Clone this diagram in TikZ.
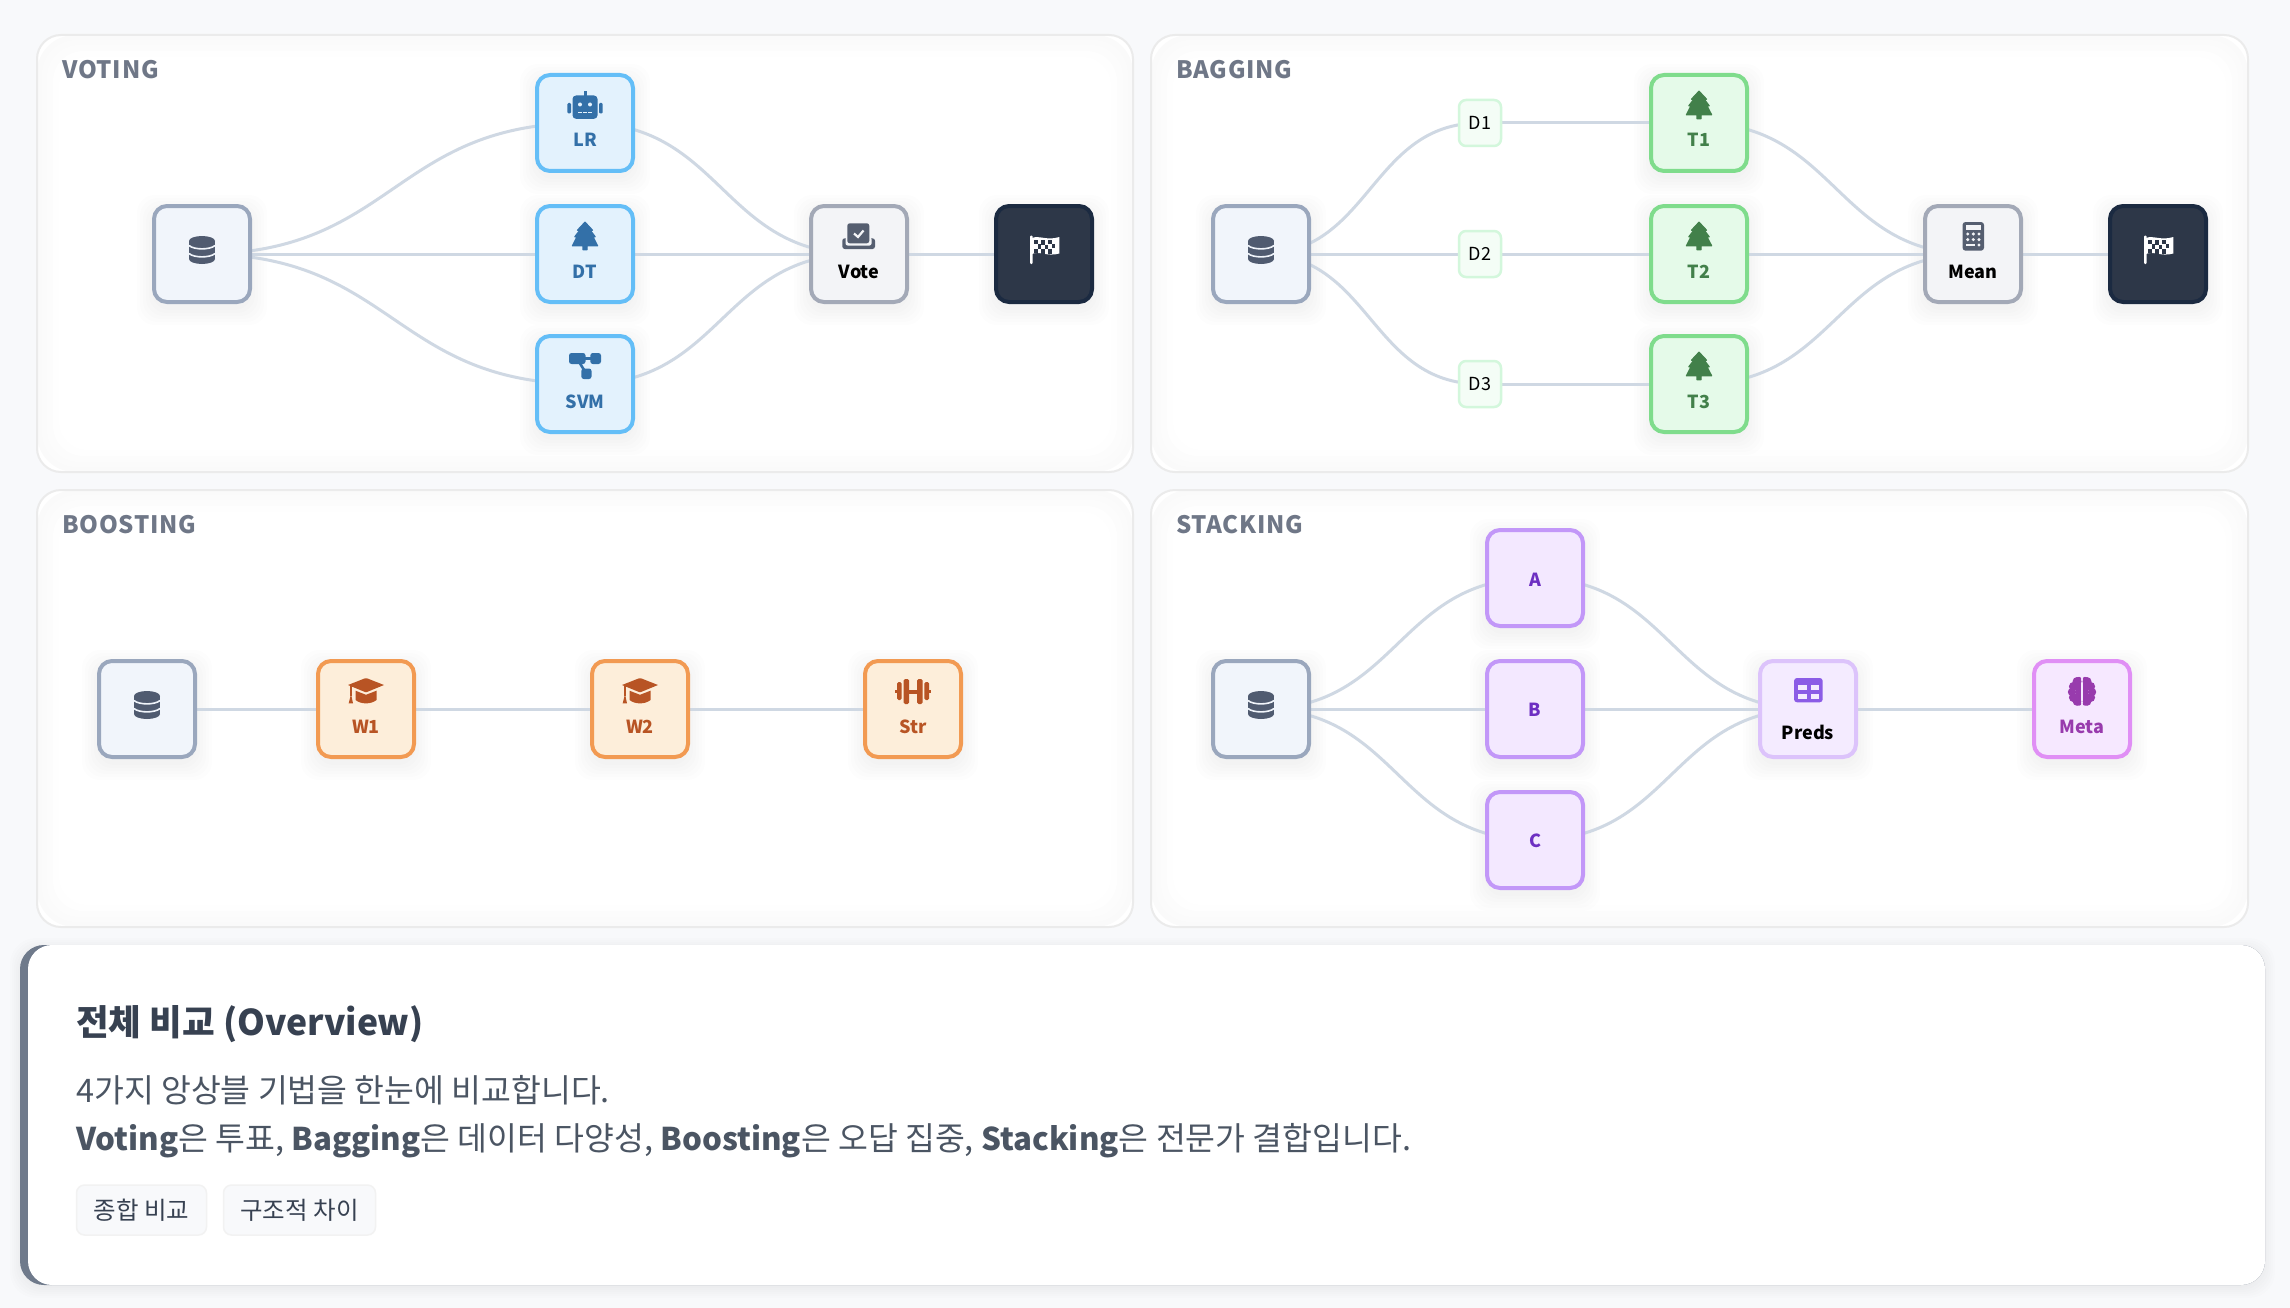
\documentclass[tikz,border=0pt]{standalone}
\usepackage{fontspec}
\setmainfont{Noto Sans CJK KR}
\usetikzlibrary{calc}
\definecolor{pagebg}{HTML}{F8F9FB}
\definecolor{lnkc}{HTML}{CFD8E3}
\definecolor{srcF}{HTML}{F1F5FB}\definecolor{srcB}{HTML}{9AA7BD}\definecolor{srcI}{HTML}{505B70}
\definecolor{bluF}{HTML}{E3F2FD}\definecolor{bluB}{HTML}{64BEF7}\definecolor{bluT}{HTML}{3370A8}
\definecolor{gryF}{HTML}{F3F4F7}\definecolor{gryB}{HTML}{A3A9B7}\definecolor{gryI}{HTML}{555E70}
\definecolor{drkF}{HTML}{2D3748}\definecolor{drkB}{HTML}{1B2A41}
\definecolor{grnF}{HTML}{E5FAE9}\definecolor{grnB}{HTML}{7FDC8C}\definecolor{grnT}{HTML}{42804A}
\definecolor{dF}{HTML}{F4FDF6}\definecolor{dB}{HTML}{D3F7DC}
\definecolor{orgF}{HTML}{FDEEDA}\definecolor{orgB}{HTML}{F29A52}\definecolor{orgT}{HTML}{B85424}
\definecolor{purF}{HTML}{F3E8FF}\definecolor{purB}{HTML}{C297F8}\definecolor{purT}{HTML}{6D2FC2}
\definecolor{prdF}{HTML}{F4EBFF}\definecolor{prdB}{HTML}{DCC3FB}\definecolor{prdI}{HTML}{8B5CE6}
\definecolor{metF}{HTML}{F6E8FF}\definecolor{metB}{HTML}{E08FF5}\definecolor{metT}{HTML}{983BAD}
\definecolor{ttl}{HTML}{6F7787}
\definecolor{hd}{HTML}{374151}\definecolor{bd}{HTML}{4B5563}
\definecolor{bar}{HTML}{6F7A8B}
\pgfdeclarelayer{pan}\pgfdeclarelayer{shd}\pgfdeclarelayer{lnk}
\pgfsetlayers{pan,shd,lnk,main}
\tikzset{
  box/.style={draw,line width=4pt,minimum size=96pt,inner sep=0pt,rounded corners=13pt},
  srcbox/.style={box,fill=srcF,draw=srcB},
  blubox/.style={box,fill=bluF,draw=bluB},
  grybox/.style={box,fill=gryF,draw=gryB},
  drkbox/.style={box,fill=drkF,draw=drkB},
  grnbox/.style={box,fill=grnF,draw=grnB},
  orgbox/.style={box,fill=orgF,draw=orgB},
  purbox/.style={box,fill=purF,draw=purB},
  prdbox/.style={box,fill=prdF,draw=prdB},
  metbox/.style={box,fill=metF,draw=metB},
  dbox/.style={draw=dB,fill=dF,line width=2.5pt,minimum width=42pt,minimum height=46pt,inner sep=0pt,rounded corners=7pt,font=\fontsize{18}{22}\selectfont,text=black},
  lbl/.style={inner sep=0pt,anchor=base,font=\bfseries\fontsize{18}{22}\selectfont},
  link/.style={draw=lnkc,line width=3pt},
  paneltitle/.style={inner sep=0pt,anchor=base west,text=ttl,font=\bfseries\fontsize{24}{28}\selectfont\addfontfeature{LetterSpace=3}},
  tagbox/.style={draw=gray!10,fill=pagebg,line width=1.5pt,rounded corners=8pt,inner sep=0pt,minimum height=50pt,text=hd,font=\fontsize{24.5}{28}\selectfont},
}
\newcommand\nd[4]{%
  \begin{pgfonlayer}{shd}
  \foreach \r in {0,3,...,15}{\fill[black,opacity=.008,rounded corners=18pt] (#2-50-\r,#3-44-\r) rectangle (#2+50+\r,#3+56+\r);}
  \end{pgfonlayer}
  \node[#4] (#1) at (#2,#3) {};}
\newcommand\lk[2]{%
  \begin{pgfonlayer}{lnk}
  \draw[link] let \p1=(#1.center),\p2=(#2.center),\n1={(\x2-\x1)/2} in (#1.center) .. controls +(\n1,0) and +(-\n1,0) .. (#2.center);
  \end{pgfonlayer}}
\newcommand\tx[4]{\node[lbl,text=#3] (#1T) at ($(#1.center)+(0,#2)$) {#4};}
\newcommand\panel[5]{%
  \begin{pgfonlayer}{pan}
  \node[inner sep=0pt] (#1) at ({(#2+#4)/2},{(#3+#5)/2}) {};
  \fill[white,rounded corners=24pt] (#2,#3) rectangle (#4,#5);
  \fill[black!2,rounded corners=38pt] (#2,#3) rectangle (#4,#5);
  \fill[black!1.5,rounded corners=34pt] (#2+5,#3+5) rectangle (#4-5,#5-5);
  \fill[black!1,rounded corners=32pt] (#2+10,#3+10) rectangle (#4-10,#5-10);
  \fill[black!.5,rounded corners=30pt] (#2+16,#3+16) rectangle (#4-16,#5-16);
  \fill[white,rounded corners=28pt] (#2+22,#3+22) rectangle (#4-22,#5-22);
  \draw[draw=black!8,line width=2pt,rounded corners=24pt] (#2,#3) rectangle (#4,#5);
  \end{pgfonlayer}}
\newcommand\icdb[4]{\begin{scope}[shift={(#1.center)},shift={(0,#2)}]
  \fill[#3] (0,-9) ellipse [x radius=13,y radius=5];
  \fill[#3] (-13,-9) rectangle (13,9);
  \fill[#3] (0,9) ellipse [x radius=13,y radius=5];
  \draw[#4,line width=1.6pt] (-13,-4.5) .. controls (-8,0) and (8,0) .. (13,-4.5);
  \draw[#4,line width=1.6pt] (-13,3.5) .. controls (-8,8) and (8,8) .. (13,3.5);
\end{scope}}
\newcommand\ictree[4]{\begin{scope}[shift={(#1.center)},shift={(0,#2)}]
  \filldraw[#3,line width=1.2pt,line join=round] (0,-13.8)--(7.5,-5.8)--(5.2,-5.8)--(10.2,0.8)--(8,0.8)--(12.6,9.8)--(2,9.8)--(2,13.8)--(-2,13.8)--(-2,9.8)--(-12.6,9.8)--(-8,0.8)--(-10.2,0.8)--(-5.2,-5.8)--(-7.5,-5.8)--cycle;
\end{scope}}
\newcommand\icbot[4]{\begin{scope}[shift={(#1.center)},shift={(0,#2)}]
  \fill[#3,rounded corners=3.5pt] (-12.5,-9.5) rectangle (12.5,13.8);
  \fill[#3] (-1.5,-14) rectangle (1.5,-9);
  \fill[#3,rounded corners=1.2pt] (-17.7,-2) rectangle (-14,8.5);
  \fill[#3,rounded corners=1.2pt] (14,-2) rectangle (17.7,8.5);
  \fill[#4] (-5,-0.5) circle [radius=2];\fill[#4] (5,-0.5) circle [radius=2];
  \foreach \k in {-5,0,5}{\fill[#4] (\k-1.8,6.6) rectangle (\k+1.8,8.3);}
\end{scope}}
\newcommand\icsvm[4]{\begin{scope}[shift={(#1.center)},shift={(0,#2)}]
  \draw[#3,line width=2.6pt] (-8,-7.5)--(10,-7.5) (-8,-7.5)--(1.5,8);
  \fill[#3,rounded corners=2.5pt] (-16,-13) rectangle (0.5,-2);
  \fill[#3,rounded corners=2.5pt] (5.3,-13) rectangle (16,-2);
  \fill[#3,rounded corners=2.5pt] (-3.7,2.5) rectangle (6.5,13);
\end{scope}}
\newcommand\icvote[4]{\begin{scope}[shift={(#1.center)},shift={(0,#2)}]
  \fill[#3,rounded corners=2.5pt] (-16.7,-15.7) rectangle (16,-5);
  \fill[#4,rounded corners=2pt] (-13.5,-16.5) rectangle (12.5,-8.5);
  \fill[#3,rounded corners=2.5pt] (-11.7,-30.7) rectangle (10.3,-10.7);
  \draw[#4,line width=2.2pt] (-5,-20.5)--(-1,-17)--(4.5,-23.5);
\end{scope}}
\newcommand\icflag[4]{\begin{scope}[shift={(#1.center)},shift={(0,#2)}]
  \fill[#3,rounded corners=1pt] (-14,-18.3) rectangle (-11.3,10);
  \fill[#3] (-12,-16) .. controls (-5,-19) and (3,-13) .. (15.3,-17) -- (15.3,-0.5) .. controls (3,3) and (-5,-3.5) .. (-12,0) -- cycle;
  \foreach \a/\b in {-8/-12,-1/-11.5,6/-11.8, -4.5/-7.5,2.5/-7,9.5/-7.8, -8/-3,-1/-2.5,6/-2.5}{\fill[#4] (\a-1.9,\b-2.1) rectangle (\a+1.9,\b+2.1);}
\end{scope}}
\newcommand\iccalc[4]{\begin{scope}[shift={(#1.center)},shift={(0,#2)}]
  \fill[#3,rounded corners=3pt] (-10.5,-32) rectangle (11,-3.3);
  \fill[#4] (-7,-29) rectangle (8,-24.3);
  \foreach \a in {-5.3,0.3,6}{\foreach \b in {-20,-14.4}{\fill[#4] (\a,\b) circle [radius=1.7];}}
  \fill[#4] (-7,-10.4) rectangle (2,-7.6);
  \fill[#4] (6,-9) circle [radius=1.7];
\end{scope}}
\newcommand\iccap[4]{\begin{scope}[shift={(#1.center)},shift={(0,#2)}]
  \fill[#3] (-18,-24)--(-1,-30.7)--(1,-30.7)--(18,-24)--(1,-17)--(-1,-17)--cycle;
  \fill[#3] (-10.5,-18.3)--(0,-14.2)--(10.5,-18.3)--(10.5,-9) .. controls (5,-4.5) and (-5,-4.5) .. (-10.5,-9)--cycle;
  \draw[#3,line width=1.3pt] (-15,-23)--(-15,-13);
  \fill[#3] (-15,-15)--(-13,-5.7)--(-17.3,-5.7)--cycle;
\end{scope}}
\newcommand\icdumb[4]{\begin{scope}[shift={(#1.center)},shift={(0,#2)}]
  \fill[#3,rounded corners=1.5pt] (-9.5,-30) rectangle (-4,-5);
  \fill[#3,rounded corners=1.5pt] (4,-30) rectangle (9.5,-5);
  \fill[#3] (-4.5,-19.5) rectangle (4.5,-15.5);
  \fill[#3,rounded corners=1.5pt] (-16,-27) rectangle (-11.3,-9);
  \fill[#3,rounded corners=1.5pt] (11.3,-27) rectangle (16,-9);
  \fill[#3] (-18,-19) rectangle (-15,-16);
  \fill[#3] (15,-19) rectangle (18,-16);
\end{scope}}
\newcommand\ictable[4]{\begin{scope}[shift={(#1.center)},shift={(0,#2)}]
  \fill[#3,rounded corners=3pt] (-14,-31) rectangle (14.7,-6.7);
  \fill[#4] (-10.3,-24.3) rectangle (-0.7,-19.3);
  \fill[#4] (2.7,-24.3) rectangle (11.3,-19.3);
  \fill[#4] (-10.3,-15.2) rectangle (-0.7,-9.8);
  \fill[#4] (2.7,-15.2) rectangle (11.3,-9.8);
\end{scope}}
\newcommand\icbrain[4]{\begin{scope}[shift={(#1.center)},shift={(0,#2)}]
  \foreach \s in {-1,1}{
  \fill[#3] (\s*1,-31) rectangle (\s*6,-4);
  \fill[#3] (\s*5,-27.5) circle [radius=4.5];
  \fill[#3] (\s*8.5,-22.5) circle [radius=4.6];
  \fill[#3] (\s*10,-17) circle [radius=4.2];
  \fill[#3] (\s*8.5,-11.5) circle [radius=4.6];
  \fill[#3] (\s*5,-7.5) circle [radius=4.3];
  \fill[#3] (\s*3,-30) circle [radius=2.2];
  \fill[#3] (\s*3,-5.5) circle [radius=2.2];}
\end{scope}}
\newcommand\latb[1]{{\bfseries\fontsize{31.3}{40}\selectfont #1}}
\begin{document}
\begin{tikzpicture}[x=1pt,y=-1pt]
\useasboundingbox (0,0) rectangle (2290,1308);
\begin{pgfonlayer}{pan}\fill[pagebg] (0,0) rectangle (2290,1308);\end{pgfonlayer}
\panel{pa}{37}{35}{1133}{472}
\panel{pb}{1151}{35}{2248}{472}
\panel{pc}{37}{490}{1133}{927}
\panel{pd}{1151}{490}{2248}{927}
\node[paneltitle] (ta) at (62,78.5) {VOTING};
\node[paneltitle] (tb) at (1176,78.5) {BAGGING};
\node[paneltitle] (tc) at (62,533.5) {BOOSTING};
\node[paneltitle] (td) at (1176,533.5) {STACKING};
% voting
\nd{vs}{202}{254}{srcbox}\icdb{vs}{-4}{srcI}{srcF}
\nd{lr}{585}{123}{blubox}\icbot{lr}{-18}{bluT}{bluF}\tx{lr}{24}{bluT}{LR}
\nd{dt}{585}{254}{blubox}\ictree{dt}{-18}{bluT}{bluF}\tx{dt}{24}{bluT}{DT}
\nd{svm}{585}{384}{blubox}\icsvm{svm}{-18}{bluT}{bluF}\tx{svm}{24}{bluT}{SVM}
\nd{vote}{859}{254}{grybox}\icvote{vote}{0}{gryI}{gryF}\tx{vote}{24}{black}{Vote}
\nd{vf}{1044}{254}{drkbox}\icflag{vf}{0}{white}{drkF}
\lk{vs}{lr}\lk{vs}{dt}\lk{vs}{svm}\lk{lr}{vote}\lk{dt}{vote}\lk{svm}{vote}\lk{vote}{vf}
% bagging
\nd{bs}{1261}{254}{srcbox}\icdb{bs}{-4}{srcI}{srcF}
\node[dbox] (d1) at (1480,123) {\raisebox{-1.5pt}{D1}};
\node[dbox] (d2) at (1480,254) {\raisebox{-1.5pt}{D2}};
\node[dbox] (d3) at (1480,384) {\raisebox{-1.5pt}{D3}};
\nd{t1}{1699}{123}{grnbox}\ictree{t1}{-18}{grnT}{grnF}\tx{t1}{24}{grnT}{T1}
\nd{t2}{1699}{254}{grnbox}\ictree{t2}{-18}{grnT}{grnF}\tx{t2}{24}{grnT}{T2}
\nd{t3}{1699}{384}{grnbox}\ictree{t3}{-18}{grnT}{grnF}\tx{t3}{24}{grnT}{T3}
\nd{mean}{1973}{254}{grybox}\iccalc{mean}{0}{gryI}{gryF}\tx{mean}{24}{black}{Mean}
\nd{bf}{2158}{254}{drkbox}\icflag{bf}{0}{white}{drkF}
\lk{bs}{d1}\lk{bs}{d2}\lk{bs}{d3}\lk{d1}{t1}\lk{d2}{t2}\lk{d3}{t3}\lk{t1}{mean}\lk{t2}{mean}\lk{t3}{mean}\lk{mean}{bf}
% boosting
\nd{cs}{147}{709}{srcbox}\icdb{cs}{-4}{srcI}{srcF}
\nd{w1}{366}{709}{orgbox}\iccap{w1}{0}{orgT}{orgF}\tx{w1}{24}{orgT}{W1}
\nd{w2}{640}{709}{orgbox}\iccap{w2}{0}{orgT}{orgF}\tx{w2}{24}{orgT}{W2}
\nd{str}{913}{709}{orgbox}\icdumb{str}{0}{orgT}{orgF}\tx{str}{24}{orgT}{Str}
\lk{cs}{w1}\lk{w1}{w2}\lk{w2}{str}
% stacking
\nd{ss}{1261}{709}{srcbox}\icdb{ss}{-4}{srcI}{srcF}
\nd{a}{1535}{578}{purbox}\tx{a}{8}{purT}{A}
\nd{b}{1535}{709}{purbox}\tx{b}{7.5}{purT}{B}
\nd{c}{1535}{840}{purbox}\tx{c}{7.5}{purT}{C}
\nd{preds}{1808}{709}{prdbox}\ictable{preds}{0}{prdI}{prdF}\tx{preds}{30}{black}{Preds}
\nd{meta}{2082}{709}{metbox}\icbrain{meta}{0}{metT}{metF}\tx{meta}{24}{metT}{Meta}
\lk{ss}{a}\lk{ss}{b}\lk{ss}{c}\lk{a}{preds}\lk{b}{preds}\lk{c}{preds}\lk{preds}{meta}
% card
\begin{pgfonlayer}{pan}
\foreach \r in {0,2,...,10}{\fill[black,opacity=.008,rounded corners=26pt] (20-\r,945-\r+3) rectangle (2265+\r,1285+\r+3);}
\fill[bar,rounded corners=24pt] (20,945) rectangle (2265,1285);
\fill[white,rounded corners=24pt] (28,945) rectangle (2265,1285);
\end{pgfonlayer}
\node[inner sep=0pt,anchor=base west,text=hd,font=\bfseries\fontsize{35.5}{44}\selectfont] (head) at (76,1035) {전체 비교 (Overview)};
\node[inner sep=0pt,anchor=base west,text=bd,font=\fontsize{32.45}{40}\selectfont] (l1) at (76,1102.5) {4가지 앙상블 기법을 한눈에 비교합니다.};
\node[inner sep=0pt,anchor=base west,text=bd,font=\fontsize{32.45}{40}\selectfont] (l2) at (76,1150.5) {\latb{Voting}은 투표, \latb{Bagging}은 데이터 다양성, \latb{Boosting}은 오답 집중, \latb{Stacking}은 전문가 결합입니다.};
\node[tagbox,minimum width=130pt] (t1b) at (141.5,1210) {\raisebox{-1pt}{종합 비교}};
\node[tagbox,minimum width=152pt] (t2b) at (299.5,1210) {\raisebox{-1pt}{구조적 차이}};
\end{tikzpicture}
\end{document}
